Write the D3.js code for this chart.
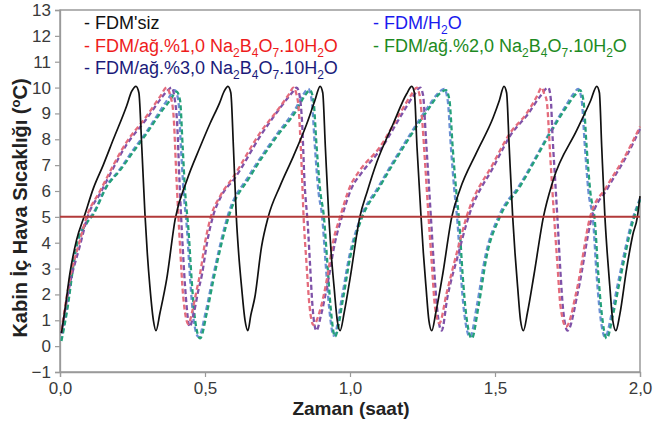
<!DOCTYPE html>
<html>
<head>
<meta charset="utf-8">
<script src="https://cdn.jsdelivr.net/npm/d3@7"></script>
<style>
  html, body { margin: 0; padding: 0; background: #fff; }
  svg { display: block; font-family: "Liberation Sans", Arial, sans-serif; }
</style>
</head>
<body>
<svg id="chart" width="666" height="423"></svg>
<script>
// ---- data (time in hours, temperature in °C) ----
const xTicks = [0, 0.5, 1.0, 1.5, 2.0];
const xTickLabels = ["0,0", "0,5", "1,0", "1,5", "2,0"];
const yTicks = [-1,0,1,2,3,4,5,6,7,8,9,10,11,12,13];
const limitValue = 5;

const seriesNames = [
  "FDM'siz",
  "FDM/H2O",
  "FDM/ağ.%1,0 Na2B4O7.10H2O",
  "FDM/ağ.%2,0 Na2B4O7.10H2O",
  "FDM/ağ.%3,0 Na2B4O7.10H2O"
];

const fdmSiz = [
  [0.005,0.5],[0.017,1.4],[0.034,2.8],[0.057,4.1],[0.086,5.1],[0.115,6.1],[0.149,7.0],[0.184,8.0],[0.23,9.3],[0.247,9.85],[0.262,10.05],
  [0.272,9.8],[0.282,7.7],[0.293,5.1],[0.301,3.6],[0.31,2.3],[0.322,1.0],[0.331,0.6],
  [0.345,1.3],[0.368,2.6],[0.397,4.9],[0.437,6.4],[0.483,7.7],[0.517,8.6],[0.55,9.4],[0.566,9.85],[0.579,10.05],
  [0.589,9.8],[0.598,7.7],[0.608,5.0],[0.616,3.6],[0.626,2.3],[0.638,1.0],[0.648,0.6],
  [0.658,1.2],[0.672,1.9],[0.695,3.85],[0.718,5.0],[0.759,6.2],[0.805,7.35],[0.851,8.6],[0.879,9.5],[0.897,10.05],
  [0.906,9.8],[0.915,7.7],[0.927,5.0],[0.935,3.6],[0.945,2.3],[0.956,1.0],[0.966,0.6],
  [0.98,1.3],[1.0,2.6],[1.034,5.0],[1.06,6.0],[1.092,7.1],[1.149,8.6],[1.195,9.75],[1.213,10.05],
  [1.222,9.8],[1.231,7.7],[1.245,5.0],[1.253,3.6],[1.262,2.3],[1.272,1.0],[1.282,0.6],
  [1.296,1.3],[1.32,2.8],[1.351,5.0],[1.379,6.05],[1.437,7.5],[1.494,8.85],[1.515,9.5],[1.531,10.05],
  [1.54,9.8],[1.549,7.7],[1.561,5.0],[1.569,3.6],[1.578,2.3],[1.588,1.0],[1.598,0.6],
  [1.612,1.3],[1.635,2.8],[1.667,5.0],[1.70,6.4],[1.782,8.35],[1.83,9.5],[1.851,10.05],
  [1.86,9.8],[1.868,7.7],[1.879,5.0],[1.887,3.6],[1.896,2.3],[1.906,1.0],[1.917,0.6],
  [1.93,1.2],[1.954,3.0],[1.975,4.3],[1.991,5.0],[2.0,5.8]
];

const fdmH2O = [
  [0.005,0.3],[0.023,1.4],[0.057,3.9],[0.092,4.8],[0.115,5.15],[0.161,6.2],[0.207,6.85],[0.253,7.6],[0.299,8.3],[0.345,9.1],[0.375,9.6],[0.396,9.9],
  [0.408,9.5],[0.417,7.7],[0.426,6.0],[0.438,4.5],[0.449,2.56],[0.461,1.0],[0.478,0.35],
  [0.502,1.3],[0.526,2.6],[0.583,5.2],[0.652,6.6],[0.745,8.15],[0.813,9.2],[0.84,9.75],[0.856,9.95],
  [0.868,9.5],[0.879,7.7],[0.891,6.0],[0.904,5.0],[0.916,3.2],[0.928,1.5],[0.944,0.4],
  [0.973,1.95],[0.997,3.45],[1.031,4.8],[1.1,6.2],[1.205,8.15],[1.272,9.3],[1.305,9.8],[1.325,9.95],
  [1.337,9.5],[1.348,7.7],[1.36,6.0],[1.371,4.75],[1.382,2.82],[1.394,1.27],[1.414,0.35],
  [1.438,1.6],[1.467,3.5],[1.514,5.05],[1.583,6.2],[1.688,8.25],[1.744,9.3],[1.77,9.75],[1.787,9.95],
  [1.799,9.5],[1.81,7.7],[1.822,6.0],[1.839,4.75],[1.85,2.82],[1.862,1.27],[1.88,0.35],
  [1.903,1.3],[1.927,2.6],[1.974,4.9],[2.0,5.7]
];

const fdmBoraks1 = [
  [0.005,0.6],[0.034,2.6],[0.069,4.1],[0.092,5.0],[0.138,6.0],[0.23,7.9],[0.299,8.9],[0.345,9.65],[0.368,10.0],
  [0.38,9.7],[0.391,9.0],[0.402,6.4],[0.414,3.85],[0.425,1.9],[0.443,0.85],
  [0.455,1.3],[0.47,2.1],[0.483,2.8],[0.5,4.0],[0.52,5.0],[0.552,5.8],[0.598,6.55],[0.69,8.25],[0.759,9.26],[0.79,9.75],[0.805,10.0],
  [0.815,9.75],[0.822,9.3],[0.833,7.0],[0.84,5.0],[0.85,3.2],[0.86,1.6],[0.874,0.82],
  [0.897,1.4],[0.92,2.56],[0.943,4.1],[0.966,5.0],[1.0,6.17],[1.034,6.8],[1.103,7.7],[1.172,9.0],[1.21,9.7],[1.23,10.0],
  [1.24,9.7],[1.247,9.0],[1.259,7.07],[1.27,5.14],[1.282,3.2],[1.293,1.53],[1.308,0.88],
  [1.333,2.04],[1.368,3.6],[1.402,5.0],[1.494,7.07],[1.552,8.24],[1.609,9.0],[1.644,9.65],[1.661,10.0],
  [1.67,9.75],[1.678,9.5],[1.692,7.07],[1.703,5.14],[1.715,3.2],[1.726,1.53],[1.745,0.75],
  [1.782,2.17],[1.828,5.0],[1.885,6.17],[1.954,7.46],[2.0,8.49]
];

const fdmBoraks2 = [
  [0.005,0.2],[0.023,1.27],[0.057,3.85],[0.092,4.75],[0.115,5.1],[0.161,6.17],[0.207,6.8],[0.253,7.52],[0.299,8.23],[0.345,9.0],[0.379,9.5],[0.402,9.84],
  [0.414,9.5],[0.423,7.7],[0.431,6.04],[0.443,4.5],[0.454,2.56],[0.466,1.0],[0.483,0.3],
  [0.506,1.27],[0.529,2.56],[0.586,5.15],[0.655,6.55],[0.747,8.1],[0.816,9.13],[0.845,9.7],[0.862,9.9],
  [0.874,9.5],[0.885,7.7],[0.897,6.04],[0.91,5.0],[0.922,3.2],[0.933,1.53],[0.948,0.37],
  [0.977,1.9],[1.0,3.4],[1.034,4.75],[1.103,6.17],[1.207,8.1],[1.276,9.26],[1.31,9.78],[1.331,9.9],
  [1.343,9.5],[1.354,7.7],[1.366,6.04],[1.377,4.75],[1.388,2.82],[1.4,1.27],[1.42,0.3],
  [1.443,1.53],[1.471,3.46],[1.517,5.0],[1.586,6.17],[1.69,8.23],[1.747,9.26],[1.775,9.7],[1.793,9.9],
  [1.805,9.5],[1.816,7.7],[1.828,6.04],[1.845,4.75],[1.856,2.82],[1.868,1.27],[1.885,0.3],
  [1.908,1.27],[1.931,2.56],[1.977,4.88],[2.0,5.65]
];

const fdmBoraks3 = [
  [0.005,0.5],[0.034,2.4],[0.069,3.9],[0.095,5.0],[0.138,5.9],[0.23,7.8],[0.299,8.8],[0.35,9.6],[0.372,9.9],[0.385,10.0],
  [0.395,9.6],[0.404,8.6],[0.412,6.4],[0.423,3.85],[0.434,1.9],[0.447,0.75],
  [0.46,1.2],[0.476,2.1],[0.49,2.8],[0.507,4.0],[0.527,5.0],[0.556,5.8],[0.603,6.5],[0.695,8.2],[0.765,9.3],[0.8,9.8],[0.816,10.0],
  [0.826,9.7],[0.835,8.6],[0.843,6.4],[0.855,4.6],[0.862,3.2],[0.871,1.5],[0.884,0.6],
  [0.9,1.2],[0.924,2.5],[0.948,4.0],[0.972,5.0],[1.005,6.1],[1.04,6.7],[1.108,7.65],[1.178,8.95],[1.22,9.7],[1.242,10.0],
  [1.252,9.7],[1.262,8.0],[1.27,6.6],[1.28,4.8],[1.29,3.0],[1.3,1.5],[1.316,0.6],
  [1.336,1.9],[1.372,3.5],[1.406,4.9],[1.498,7.0],[1.556,8.2],[1.612,8.95],[1.655,9.65],[1.684,10.0],
  [1.692,9.6],[1.699,8.0],[1.707,6.5],[1.716,4.8],[1.725,3.0],[1.735,1.4],[1.75,0.6],
  [1.786,2.1],[1.832,4.9],[1.888,6.1],[1.956,7.4],[2.0,8.4]
];

// ---- layout ----
const svg = d3.select("#chart");
const mLeft = 60, mRight = 640, mTop = 10, mBottom = 372;

const x = d3.scaleLinear().domain([0, 2]).range([mLeft, mRight]);
const y = d3.scaleLinear().domain([-1, 13]).range([mBottom, mTop]);

const axisColor = "#9a9a9a";
const labelColor = "#3a3a3a";

// frame
svg.append("rect")
  .attr("x", mLeft).attr("y", mTop)
  .attr("width", mRight - mLeft).attr("height", mBottom - mTop)
  .attr("fill", "none").attr("stroke", "#8a8a8a").attr("stroke-width", 1.3);

// y axis
const yAxis = svg.append("g")
  .attr("transform", `translate(${mLeft},0)`)
  .call(d3.axisLeft(y).tickValues(yTicks).tickFormat(d3.format("d")).tickSize(5).tickPadding(4));
yAxis.select(".domain").attr("stroke", axisColor).attr("stroke-width", 1.3);
yAxis.selectAll(".tick line").attr("stroke", axisColor).attr("stroke-width", 1.2);
yAxis.selectAll(".tick text").attr("fill", labelColor).attr("font-size", 17)
  .attr("font-family", "Liberation Sans, Arial, sans-serif");

// x axis
const xAxis = svg.append("g")
  .attr("transform", `translate(0,${mBottom})`)
  .call(d3.axisBottom(x).tickValues(xTicks).tickFormat((d, i) => xTickLabels[i]).tickSize(5).tickPadding(5));
xAxis.select(".domain").attr("stroke", axisColor).attr("stroke-width", 1.3);
xAxis.selectAll(".tick line").attr("stroke", axisColor).attr("stroke-width", 1.2);
xAxis.selectAll(".tick text").attr("fill", labelColor).attr("font-size", 17)
  .attr("font-family", "Liberation Sans, Arial, sans-serif");

// lines
const line = d3.line()
  .x(d => x(d[0])).y(d => y(d[1]))
  .curve(d3.curveMonotoneX);

const plotG = svg.append("g");

const dashed = [
  { data: fdmH2O, color: "#6b8fd4", offset: 3 },
  { data: fdmBoraks2, color: "#24a07a", offset: 0 },
  { data: fdmBoraks3, color: "#7f52a8", offset: 3 },
  { data: fdmBoraks1, color: "#e46c7c", offset: 0 }
];
dashed.forEach(s => {
  plotG.append("path")
    .datum(s.data)
    .attr("d", line)
    .attr("fill", "none")
    .attr("stroke", s.color)
    .attr("stroke-width", 2.3)
    .attr("stroke-dasharray", "5,3")
    .attr("stroke-dashoffset", s.offset)
    .attr("stroke-linejoin", "round");
});

plotG.append("path")
  .datum(fdmSiz)
  .attr("d", line)
  .attr("fill", "none")
  .attr("stroke", "#111")
  .attr("stroke-width", 1.7)
  .attr("stroke-linejoin", "round");

// limit line at 5 °C
plotG.append("line")
  .attr("x1", x(0)).attr("x2", x(2))
  .attr("y1", y(limitValue)).attr("y2", y(limitValue))
  .attr("stroke", "#b23a3a").attr("stroke-width", 2);

// legend
const legendItems = [
  { name: seriesNames[0], color: "#111111", lx: 84, ly: 29 },
  { name: seriesNames[2], color: "#ee1c1c", lx: 84, ly: 51.5 },
  { name: seriesNames[4], color: "#1b1b7a", lx: 84, ly: 74 },
  { name: seriesNames[1], color: "#1a1aee", lx: 373, ly: 29 },
  { name: seriesNames[3], color: "#1d8a22", lx: 373, ly: 51.5 }
];

function addChemText(sel, str) {
  // digits directly following a letter (Na2, B4, O7, H2) are subscripts
  const parts = [];
  let buf = "";
  for (let i = 0; i < str.length; i++) {
    const c = str[i];
    if (/\d/.test(c) && i > 0 && /[A-Za-z]/.test(str[i - 1])) {
      if (buf) parts.push({ t: buf, sub: false });
      buf = "";
      parts.push({ t: c, sub: true });
    } else {
      buf += c;
    }
  }
  if (buf) parts.push({ t: buf, sub: false });
  let lowered = false;
  parts.forEach(p => {
    const ts = sel.append("tspan").text(p.t);
    if (p.sub) {
      ts.attr("font-size", 12).attr("dy", 5);
      lowered = true;
    } else if (lowered) {
      ts.attr("dy", -5);
      lowered = false;
    }
  });
}

legendItems.forEach(it => {
  const t = svg.append("text")
    .attr("x", it.lx).attr("y", it.ly)
    .attr("fill", it.color)
    .attr("font-size", 18);
  addChemText(t, "- " + it.name);
});

// axis titles
svg.append("text")
  .attr("x", 351).attr("y", 415)
  .attr("text-anchor", "middle")
  .attr("font-size", 19).attr("font-weight", "bold").attr("fill", "#222")
  .text("Zaman (saat)");

const yt = svg.append("text")
  .attr("transform", "translate(27,208) rotate(-90)")
  .attr("text-anchor", "middle")
  .attr("font-size", 20).attr("font-weight", "bold").attr("fill", "#222");
yt.append("tspan").text("Kabin İç Hava Sıcaklığı (");
yt.append("tspan").attr("font-size", 13).attr("dy", -7).text("o");
yt.append("tspan").attr("dy", 7).text("C)");
</script>
</body>
</html>
